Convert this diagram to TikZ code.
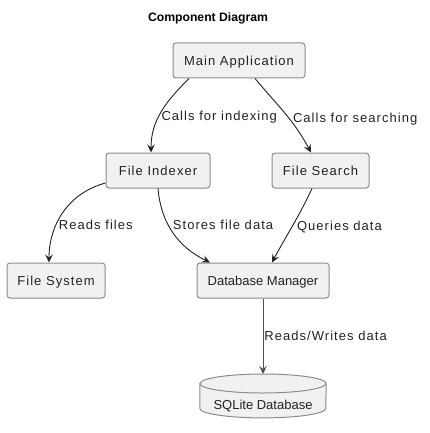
\documentclass[tikz,border=0pt]{standalone}
\usepackage{fontspec}
\setmainfont{Liberation Sans}
\newfontfamily\spaced[LetterSpace=8]{Liberation Sans}
\usetikzlibrary{arrows.meta,backgrounds}
\definecolor{boxfill}{RGB}{241,241,241}
\definecolor{boxline}{RGB}{140,140,140}
\definecolor{ink}{RGB}{34,34,34}
\tikzstyle{component}=[draw=boxline, fill=boxfill, rounded corners=3pt, line width=1pt, minimum height=35pt, inner sep=0pt, text height=9.4pt, text depth=0pt, text=ink, font=\spaced\fontsize{13}{15}\selectfont]
\tikzset{tight/.style={font=\fontsize{13}{15}\selectfont}}
\tikzset{call/.style={->, line width=0.9pt, color=ink}}
\tikzset{lbl/.style={anchor=west, text=ink, font=\spaced\fontsize{13}{15}\selectfont, text height=9.4pt, text depth=0pt, inner sep=4pt}}

\begin{document}
\begin{tikzpicture}[x=1pt,y=1pt,>={Stealth[length=8pt,width=7.5pt,inset=3pt]}]
  \useasboundingbox (0,0) rectangle (430,-433);
  \draw (208,-18) node[text=black,font=\bfseries\fontsize{12.2}{14}\selectfont] (title) {Component Diagram};

  %% Components
  \draw (239,-60.5) node[component,minimum width=132pt] (main) {Main Application};
  \draw (158,-170.5) node[component,minimum width=104pt] (indexer) {File Indexer};
  \draw (320.5,-170.5) node[component,minimum width=97pt] (search) {File Search};
  \draw (56,-280.5) node[component,minimum width=98pt] (fs) {File System};
  \draw (263,-280.5) node[component,tight,minimum width=132pt] (dbm) {Database Manager};
  \draw (263,-374) node[anchor=north,minimum width=126pt,inner sep=0pt,text height=35.7pt,text depth=7.8pt,text=ink,tight] (db) {SQLite Database};

  %% Database cylinder
  \begin{scope}[on background layer]
    \draw[draw=boxline,fill=boxfill,line width=1pt] ([yshift=-9.5pt]db.north west) -- ([yshift=9.5pt]db.south west)
      arc[start angle=180,end angle=360,x radius=63pt,y radius=9.5pt] -- ([yshift=-9.5pt]db.north east)
      arc[start angle=0,end angle=180,x radius=63pt,y radius=9.5pt] -- cycle;
    \draw[boxline,line width=1pt] ([yshift=-9.5pt]db.north west) arc[start angle=180,end angle=360,x radius=63pt,y radius=9.5pt];
  \end{scope}

  %% Calls
  \draw[call] ([xshift=-50pt]main.south) to[out=-135,in=90] node[lbl,pos=0.56,inner sep=2pt] (l1) {Calls for indexing} ([xshift=-7pt]indexer.north);
  \draw[call] ([xshift=16pt]main.south) to[out=-50,in=118] node[lbl,pos=0.56] (l2) {Calls for searching} ([xshift=-9.5pt]search.north);
  \draw[call] ([yshift=-12.5pt]indexer.west) to[out=195,in=90] node[lbl,pos=0.64,inner sep=2pt] (l3) {Reads files} ([xshift=-7pt]fs.north);
  \draw[call] (indexer.south) to[out=-85,in=154] node[lbl,pos=0.4] (l4) {Stores file data} ([xshift=-53pt]dbm.north);
  \draw[call] ([xshift=-8.5pt]search.south) to[out=-115,in=62] node[lbl,pos=0.5] (l5) {Queries data} ([xshift=9pt]dbm.north);
  \draw[call,color=ink!80] (dbm.south) -- node[lbl,pos=0.5,inner sep=1pt] (l6) {Reads/Writes data} (db.north);
\end{tikzpicture}
\end{document}
